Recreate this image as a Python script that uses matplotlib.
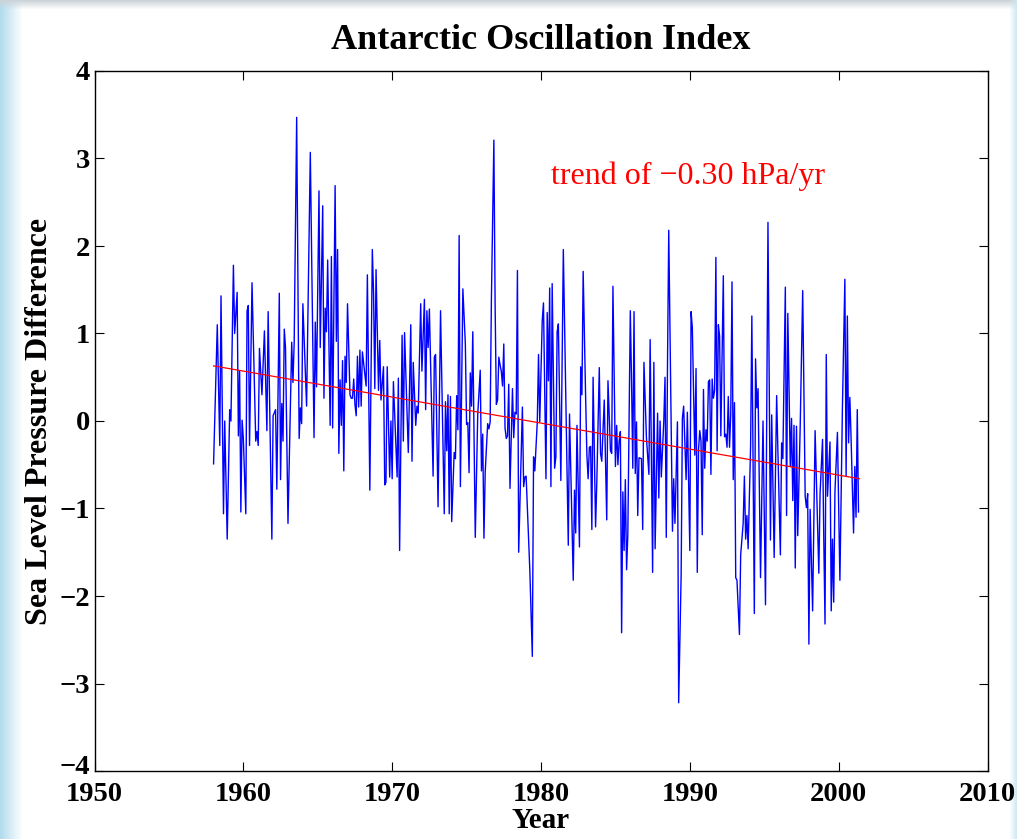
import numpy as np
import matplotlib
matplotlib.use("Agg")
import matplotlib.pyplot as plt
from matplotlib.transforms import ScaledTranslation

# ---- data (month index from Jan 1958, value) ----
months = [0,3,5,6,8,9,11,13,14,16,17,19,20,21,22,23,24,26,27,28,29,31,34,35,36,37,39,41,43,44,
          47,48,50,51,53,54,55,56,57,58,60,63,64,65,67,69,70,71,72,75,78,
          81,82,83,85,86,88,89,90,91,92,94,95,96,98,99,100,101,102,103,104,105,106,107,108,
          110,111,112,113,114,115,116,117,118,119,120,121,123,124,126,128,129,130,131,133,134,135,
          137,138,139,140,142,143,144,145,148,149,150,152,153,154,157,159,160,161,163,164,165,167,168,
          170,171,172,173,174,177,178,179,181,183,186,187,188,189,190,191,192,194,195,196,197,198,199,
          201,203,204,205,206,207,208,209,211,213,215,216,217,218,219,221,222,223,224,226,227,228,229,
          230,231,232,233,234,235,236,237,238,239,241,242,243,244,245,246,249,250,251,252,255,257,
          258,259,261,262,263,265,266,268,269,270,271,272,273,275,276,277,278,280,282,286,287,290,291,
          292,293,295,296,297,298,300,301,302,303,304,305,306,308,309,311,312,313,315,317,318,320,321,
          322,324,325,326,327,328,329,330,331,332,333,334,336,337,338,339,340,341,342,343,345,346,
          347,349,351,352,354,355,356,358,359,360,361,363,364,365,366,367,370,371,372,374,375,377,378,
          379,381,382,384,385,386,388,389,390,391,392,393,394,395,396,397,398,399,400,401,402,403,404,
          405,406,407,408,409,411,412,413,414,415,416,417,418,419,420,421,422,424,425,427,428,429,430,
          431,433,434,436,437,438,439,441,443,445,447,449,450,452,454,455,457,458,459,461,462,463,465,
          466,467,468,469,470,471,473,475,477,478,479,480,481,483,485,488,489,491,492,493,494,495,497,
          498,499,500,501,503,505,507,509,510,511,512,513,514,516,517,518,519,520]
aao = [-0.49,1.10,-0.28,1.43,-1.06,0.00,-1.35,0.13,0.00,1.78,1.00,1.47,-0.17,0.57,-1.04,0.01,-0.20,-1.06,1.26,1.32,-0.28,1.58,-0.23,-0.12,-0.28,0.83,0.30,1.03,-0.11,1.25,
       -1.35,0.06,0.13,-0.78,1.46,-0.67,0.20,-0.23,1.05,0.84,-1.17,0.90,0.44,0.90,3.47,-0.20,0.15,-0.03,1.34,0.17,3.07,
       -0.19,1.13,0.39,2.63,0.84,2.46,0.26,1.29,1.02,1.84,-0.05,1.88,-0.08,2.69,0.91,1.96,-0.37,0.47,-0.05,0.69,-0.57,0.74,0.44,1.34,
       0.30,0.26,0.26,0.48,0.19,0.06,0.74,0.16,0.81,0.17,0.79,0.66,0.40,1.67,-0.79,1.96,1.46,0.37,1.73,0.35,0.92,0.24,
       0.62,-0.73,-0.70,0.62,-0.64,0.00,-0.66,0.45,-0.64,0.49,-1.48,0.98,-0.23,1.01,-0.36,1.10,-0.46,0.67,-0.05,0.17,0.09,1.34,0.57,
       1.39,0.13,1.26,0.84,1.28,-0.63,0.73,0.76,-0.98,1.26,-1.06,0.22,-0.34,0.30,-1.06,0.28,-1.15,-0.36,-0.43,0.29,-0.10,2.12,-0.75,
       1.51,0.88,-0.04,-0.02,-0.59,0.55,0.17,1.02,-1.33,0.08,0.58,-0.57,-0.15,-1.34,-0.59,-0.03,-0.09,-0.01,1.38,3.21,1.33,0.19,0.24,
       0.73,0.64,0.57,0.40,0.88,-0.08,-0.20,-0.17,0.42,-0.77,0.37,-0.19,0.10,0.08,1.72,-1.50,0.16,-0.75,-0.64,-0.63,-1.71,-2.69,
       -0.41,-0.57,-0.01,0.76,-0.01,1.15,1.35,-0.66,1.24,0.46,1.52,-0.75,1.57,-0.54,-0.41,1.02,1.11,-0.68,1.96,-1.42,0.08,-1.82,-0.79,
       -1.28,-0.05,-1.44,0.62,0.30,1.71,0.26,-0.39,-0.66,-0.30,-0.29,-1.24,0.50,-1.21,-0.70,0.61,-0.37,-0.46,0.24,-1.13,0.46,-0.34,-0.37,
       1.54,-0.52,-0.05,-0.50,-0.23,-0.12,-2.42,-0.81,-1.48,-0.67,-1.70,-1.30,1.26,0.46,-0.54,1.25,-0.60,-0.01,-1.08,-0.42,-0.43,-1.24,
       0.67,-0.19,-0.61,0.93,-1.73,0.67,-1.46,0.09,-0.88,0.00,-0.64,0.00,0.50,-1.33,0.66,2.18,-1.26,-0.66,-1.17,-0.01,-3.22,-1.75,0.03,
       0.17,-0.67,0.10,-1.48,1.25,1.07,-0.39,0.60,-1.73,-0.33,-0.11,-0.23,-1.30,0.36,-0.54,-0.10,-0.23,0.45,0.47,-0.61,0.48,0.26,0.35,
       1.87,-0.34,1.10,0.97,-0.17,1.66,-0.18,-0.15,-0.30,0.28,-0.30,0.08,1.59,-0.67,0.21,-1.79,-1.82,-2.44,-1.53,-1.17,-0.63,-1.35,-1.08,
       -1.46,-0.28,1.20,-2.20,0.71,0.15,0.37,-1.79,0.00,-2.10,2.27,-1.36,0.07,-1.56,0.29,-0.34,-1.53,-0.25,-0.43,1.53,-1.08,1.23,-0.52,
       0.03,-0.91,-0.05,-1.68,-0.06,-1.31,-0.05,1.49,-0.86,-0.99,-0.83,-2.55,-1.01,-2.17,-0.11,-1.74,-0.83,-0.21,-1.35,-2.32,0.76,-0.86,-0.24,
       -2.17,-1.35,-2.07,-0.81,-0.13,-1.82,0.13,1.62,-0.63,1.20,-0.25,0.27,-0.19,-1.28,-0.52,-1.10,0.13,-1.04]
start_year = 1958
trend_years = [1958.0, 2001.4]
trend_vals = [0.63, -0.66]
title = "Antarctic Oscillation Index"
xlabel = "Year"
ylabel = "Sea Level Pressure Difference"
trend_label = "trend of \u22120.30 hPa/yr"
xticks = [1950, 1960, 1970, 1980, 1990, 2000, 2010]
yticks = [-4, -3, -2, -1, 0, 1, 2, 3, 4]

years = start_year + np.array(months) / 12.0

W, H = 1017, 839
fig = plt.figure(figsize=(W / 100, H / 100), dpi=100)

# decorative background (light textured border like the reference)
bg = np.ones((H, W, 3))
cols = np.arange(W)
rows = np.arange(H)
left = np.clip(1 - cols / 22.0, 0, 1)[None, :, None]
bg = bg * (1 - left) + np.array([0.70, 0.86, 0.93])[None, None, :] * left
top = np.clip(1 - rows / 9.0, 0, 1)[:, None, None]
bg = bg * (1 - top) + np.array([0.80, 0.83, 0.85])[None, None, :] * top
right = np.clip((cols - (W - 8)) / 8.0, 0, 1)[None, :, None]
bg = bg * (1 - right) + np.array([0.80, 0.90, 0.95])[None, None, :] * right
bgax = fig.add_axes([0, 0, 1, 1], zorder=-10)
bgax.imshow(bg, aspect="auto", interpolation="bilinear")
bgax.axis("off")

ax = fig.add_axes([94.5 / W, 1 - 771 / H, (987.5 - 94.5) / W, (771 - 71) / H])
ax.set_facecolor("white")
ax.plot(years, aao, color="#0000ff", lw=1.0)
ax.plot(trend_years, trend_vals, color="#ff0000", lw=0.9)

ax.set_xlim(1950, 2010)
ax.set_ylim(-4, 4)
ax.set_xticks(xticks)
ax.set_yticks(yticks)
ax.set_yticklabels([str(t).replace("-", "\u2212") for t in yticks])

serif = ["Liberation Serif", "DejaVu Serif"]
for lab in ax.get_xticklabels() + ax.get_yticklabels():
    lab.set_family(serif)
    lab.set_fontweight("bold")
    lab.set_fontsize(20.5)
ax.tick_params(direction="in", length=6.5, width=0.8, top=True, right=True)
ax.tick_params(axis="x", pad=8)
ax.tick_params(axis="y", pad=3)
for s in ax.spines.values():
    s.set_linewidth(1.0)

# lift the bottom y label a little so it sits just above the "1950" label
t0 = ax.yaxis.get_major_ticks()[0]
t0.label1.set_transform(t0.label1.get_transform()
                        + ScaledTranslation(0, 5 / 72, fig.dpi_scale_trans))

ax.set_title(title, family=serif, fontweight="bold", fontsize=26, pad=16)
ax.set_xlabel(xlabel, family=serif, fontweight="bold", fontsize=21, labelpad=0)
ax.set_ylabel(ylabel, family=serif, fontweight="bold", fontsize=23, labelpad=4)
ax.text(1980.7, 2.8, trend_label, color="#ff0000", family=serif, fontsize=23,
        ha="left", va="center")

fig.savefig("out.png", dpi=100)
